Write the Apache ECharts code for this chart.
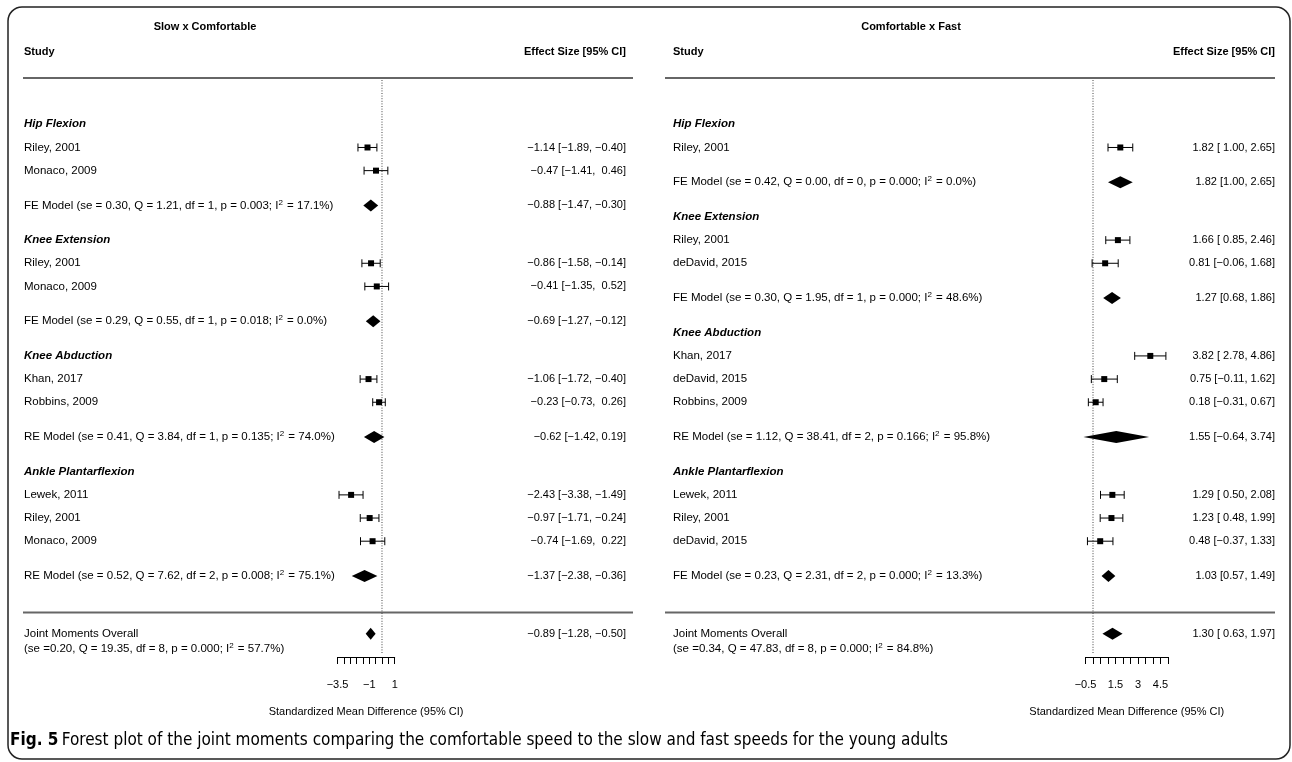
<!DOCTYPE html>
<html>
<head>
<meta charset="utf-8">
<script src="https://cdn.jsdelivr.net/npm/echarts@6/dist/echarts.min.js"></script>
<style>html,body{margin:0;padding:0;background:#fff;}#c{width:1292px;height:762px;}</style>
</head>
<body>
<div id="c"></div>
<script>
// ---------- DATA ----------
const leftTitle = 'Slow x Comfortable';
const rightTitle = 'Comfortable x Fast';
const axisName = 'Standardized Mean Difference (95% CI)';

const leftLabels = ['Hip Flexion','Riley, 2001','Monaco, 2009','FE Model','Knee Extension','Riley, 2001','Monaco, 2009','FE Model','Knee Abduction','Khan, 2017','Robbins, 2009','RE Model','Ankle Plantarflexion','Lewek, 2011','Riley, 2001','Monaco, 2009','RE Model','Joint Moments Overall'];
const leftKind   = ['h','s','s','m','h','s','s','m','h','s','s','m','h','s','s','s','m','o'];
const leftRows   = [0,1,2,3.5,5,6,7,8.5,10,11,12,13.5,15,16,17,18,19.5,22];
const leftEst    = [null,-1.14,-0.47,-0.88,null,-0.86,-0.41,-0.69,null,-1.06,-0.23,-0.62,null,-2.43,-0.97,-0.74,-1.37,-0.89];
const leftLow    = [null,-1.89,-1.41,-1.47,null,-1.58,-1.35,-1.27,null,-1.72,-0.73,-1.42,null,-3.38,-1.71,-1.69,-2.38,-1.28];
const leftHigh   = [null,-0.40,0.46,-0.30,null,-0.14,0.52,-0.12,null,-0.40,0.26,0.19,null,-1.49,-0.24,0.22,-0.36,-0.50];
// model statistics: [prefix before I, I² value]
const leftStats  = [null,null,null,['se = 0.30, Q = 1.21, df = 1, p = 0.003; ','17.1%'],null,null,null,['se = 0.29, Q = 0.55, df = 1, p = 0.018; ','0.0%'],null,null,null,['se = 0.41, Q = 3.84, df = 1, p = 0.135; ','74.0%'],null,null,null,null,['se = 0.52, Q = 7.62, df = 2, p = 0.008; ','75.1%'],['se =0.20, Q = 19.35, df = 8, p = 0.000; ','57.7%']];
const leftTicks  = [-3.5,-3,-2.5,-2,-1.5,-1,-0.5,0,0.5,1];
const leftTickLabels = [-3.5,-1,1];

const rightLabels = ['Hip Flexion','Riley, 2001','FE Model','Knee Extension','Riley, 2001','deDavid, 2015','FE Model','Knee Abduction','Khan, 2017','deDavid, 2015','Robbins, 2009','RE Model','Ankle Plantarflexion','Lewek, 2011','Riley, 2001','deDavid, 2015','FE Model','Joint Moments Overall'];
const rightKind   = ['h','s','m','h','s','s','m','h','s','s','s','m','h','s','s','s','m','o'];
const rightRows   = [0,1,2.5,4,5,6,7.5,9,10,11,12,13.5,15,16,17,18,19.5,22];
const rightEst    = [null,1.82,1.82,null,1.66,0.81,1.27,null,3.82,0.75,0.18,1.55,null,1.29,1.23,0.48,1.03,1.30];
const rightLow    = [null,1.00,1.00,null,0.85,-0.06,0.68,null,2.78,-0.11,-0.31,-0.64,null,0.50,0.48,-0.37,0.57,0.63];
const rightHigh   = [null,2.65,2.65,null,2.46,1.68,1.86,null,4.86,1.62,0.67,3.74,null,2.08,1.99,1.33,1.49,1.97];
const rightStats  = [null,null,['se = 0.42, Q = 0.00, df = 0, p = 0.000; ','0.0%'],null,null,null,['se = 0.30, Q = 1.95, df = 1, p = 0.000; ','48.6%'],null,null,null,null,['se = 1.12, Q = 38.41, df = 2, p = 0.166; ','95.8%'],null,null,null,null,['se = 0.23, Q = 2.31, df = 2, p = 0.000; ','13.3%'],['se =0.34, Q = 47.83, df = 8, p = 0.000; ','84.8%']];
const rightTicks  = [-0.5,0,0.5,1,1.5,2,2.5,3,3.5,4,4.5,5];
const rightTickLabels = [-0.5,1.5,3,4.5];

const caption = 'Forest plot of the joint moments comparing the comfortable speed to the slow and fast speeds for the young adults';

// ---------- LAYOUT ----------
const FONT = '"Liberation Sans", Arial, Helvetica, sans-serif';
const LBL = '11.5px ' + FONT;
const CIF = '11px ' + FONT;
const L = { textX: 24, ciRight: 626, lineL: 23, lineR: 633, gridLeft: 337.5, gridWidth: 57.2, title: 205 };
const R = { textX: 673, ciRight: 1275, lineL: 665, lineR: 1275, gridLeft: 1085.5, gridWidth: 82.5, title: 911 };
const GRID_TOP = 78, GRID_H = 579;

function num(v) { return (v < 0 ? '\u2212' : '') + Math.abs(v).toFixed(2); }
function padTo(s, w) { while (s.length < w) s = ' ' + s; return s; }

const RICH = {
  a: { fontFamily: FONT, fontSize: 11.5, color: '#000', fill: '#000' },
  s: { fontFamily: FONT, fontSize: 8, color: '#000', fill: '#000', padding: [0, 1, 6, 0] }
};

function makeRender(P, labels, kind, rows, est, lo, hi, stats) {
  // study rows and overall row share a common column width; model rows are unpadded
  const studyIdx = kind.map((k, i) => i).filter(i => kind[i] === 's' || kind[i] === 'o');
  let wE = 0, wL = 0, wH = 0;
  studyIdx.forEach(i => {
    wE = Math.max(wE, num(est[i]).length);
    wL = Math.max(wL, num(lo[i]).length);
    wH = Math.max(wH, num(hi[i]).length);
  });
  function ci(i) {
    if (kind[i] === 'm') return num(est[i]) + ' [' + num(lo[i]) + ', ' + num(hi[i]) + ']';
    return padTo(num(est[i]), wE) + ' [' + padTo(num(lo[i]), wL) + ', ' + padTo(num(hi[i]), wH) + ']';
  }
  function statRich(prefix, i) {
    return '{a|' + prefix + '(' + stats[i][0] + 'I}{s|2}{a| = ' + stats[i][1] + ')}';
  }
  return function (params, api) {
    const i = api.value(2);
    const k = kind[i];
    const y = api.coord([0, rows[i]])[1];
    const children = [];
    const txt = (x, yy, s, font, align) => ({
      type: 'text', x: x, y: yy,
      style: { text: s, font: font, fill: '#000', textAlign: align, align: align, textVerticalAlign: 'middle', verticalAlign: 'middle' }
    });
    const rtxt = (x, yy, s) => ({
      type: 'text', x: x, y: yy,
      style: { text: s, rich: RICH, fill: '#000', textAlign: 'left', align: 'left', textVerticalAlign: 'middle', verticalAlign: 'middle' }
    });
    if (k === 'h') {
      children.push(txt(P.textX, y, labels[i], 'italic bold 11.5px ' + FONT, 'left'));
    } else if (k === 's') {
      children.push(txt(P.textX, y, labels[i], LBL, 'left'));
      const x0 = api.coord([lo[i], rows[i]])[0];
      const x1 = api.coord([hi[i], rows[i]])[0];
      const xm = api.coord([est[i], rows[i]])[0];
      const ls = { stroke: '#000', lineWidth: 1 };
      children.push({ type: 'line', shape: { x1: x0, y1: y, x2: x1, y2: y }, style: ls });
      children.push({ type: 'line', shape: { x1: x0, y1: y - 4, x2: x0, y2: y + 4 }, style: ls });
      children.push({ type: 'line', shape: { x1: x1, y1: y - 4, x2: x1, y2: y + 4 }, style: ls });
      children.push({ type: 'rect', shape: { x: xm - 3, y: y - 3, width: 6, height: 6 }, style: { fill: '#000' } });
      children.push(txt(P.ciRight, y, ci(i), CIF, 'right'));
    } else {
      const x0 = api.coord([lo[i], rows[i]])[0];
      const x1 = api.coord([hi[i], rows[i]])[0];
      const xm = api.coord([est[i], rows[i]])[0];
      children.push({ type: 'polygon', shape: { points: [[x0, y], [xm, y - 6], [x1, y], [xm, y + 6]] }, style: { fill: '#000' } });
      if (k === 'm') {
        children.push(rtxt(P.textX, y, statRich(labels[i] + ' ', i)));
      } else {
        children.push(txt(P.textX, y, labels[i], LBL, 'left'));
        children.push(rtxt(P.textX, y + 15, statRich('', i)));
      }
      children.push(txt(P.ciRight, y, ci(i), CIF, 'right'));
    }
    return { type: 'group', children: children };
  };
}

function frameRender(P) {
  return function (params, api) {
    const yTop = api.coord([0, -2])[1];
    const ySep = api.coord([0, 21.08])[1];
    const yBot = api.coord([0, 23])[1];
    const x0 = api.coord([0, 0])[0];
    const sep = { stroke: '#666', lineWidth: 2 };
    return { type: 'group', children: [
      { type: 'line', shape: { x1: P.lineL, y1: yTop, x2: P.lineR, y2: yTop }, style: sep },
      { type: 'line', shape: { x1: P.lineL, y1: ySep, x2: P.lineR, y2: ySep }, style: sep },
      { type: 'line', shape: { x1: x0, y1: yTop + 2, x2: x0, y2: yBot - 3 }, style: { stroke: '#444', lineWidth: 1, lineDash: [1, 1.6] } }
    ] };
  };
}

function xAxisCfg(gi, ticks, labs) {
  return {
    gridIndex: gi, type: 'value', min: ticks[0], max: ticks[ticks.length - 1], interval: 0.5,
    position: 'bottom',
    axisLine: { show: true, onZero: false, lineStyle: { color: '#000', width: 1 } },
    axisTick: { show: true, length: 7, customValues: ticks, lineStyle: { color: '#000', width: 1 } },
    axisLabel: { customValues: labs, margin: 22, color: '#000', fontSize: 11, fontFamily: FONT,
      formatter: v => (v < 0 ? '\u2212' : '') + Math.abs(v) },
    splitLine: { show: false },
    name: axisName, nameLocation: 'middle', nameGap: 49,
    nameTextStyle: { color: '#000', fontSize: 11, fontFamily: FONT }
  };
}

const chart = echarts.init(document.getElementById('c'), null, { renderer: 'canvas' });
const idxData = (labels, est) => labels.map((l, i) => [est[i] === null ? 0 : est[i], 0, i]);
const CAPF = '"Liberation Sans Narrow", "DejaVu Sans Condensed", Roboto, sans-serif';

chart.setOption({
  animation: false,
  backgroundColor: '#fff',
  grid: [
    { left: L.gridLeft, width: L.gridWidth, top: GRID_TOP, height: GRID_H, containLabel: false },
    { left: R.gridLeft, width: R.gridWidth, top: GRID_TOP, height: GRID_H, containLabel: false }
  ],
  xAxis: [xAxisCfg(0, leftTicks, leftTickLabels), xAxisCfg(1, rightTicks, rightTickLabels)],
  yAxis: [
    { gridIndex: 0, type: 'value', inverse: true, min: -2, max: 23, show: false },
    { gridIndex: 1, type: 'value', inverse: true, min: -2, max: 23, show: false }
  ],
  graphic: [
    { type: 'rect', shape: { x: 8, y: 7, width: 1282, height: 752, r: 14 }, style: { fill: 'none', stroke: '#222', lineWidth: 1.5 }, silent: true },
    { type: 'text', x: L.title, y: 27, style: { text: leftTitle, font: 'bold 11px ' + FONT, fill: '#000', textAlign: 'center', textVerticalAlign: 'middle' } },
    { type: 'text', x: R.title, y: 27, style: { text: rightTitle, font: 'bold 11px ' + FONT, fill: '#000', textAlign: 'center', textVerticalAlign: 'middle' } },
    { type: 'text', x: L.textX, y: 52, style: { text: 'Study', font: 'bold 11px ' + FONT, fill: '#000', textAlign: 'left', textVerticalAlign: 'middle' } },
    { type: 'text', x: R.textX, y: 52, style: { text: 'Study', font: 'bold 11px ' + FONT, fill: '#000', textAlign: 'left', textVerticalAlign: 'middle' } },
    { type: 'text', x: L.ciRight, y: 52, style: { text: 'Effect Size [95% CI]', font: 'bold 11px ' + FONT, fill: '#000', textAlign: 'right', textVerticalAlign: 'middle' } },
    { type: 'text', x: R.ciRight, y: 52, style: { text: 'Effect Size [95% CI]', font: 'bold 11px ' + FONT, fill: '#000', textAlign: 'right', textVerticalAlign: 'middle' } },
    { type: 'text', x: 10, y: 741, style: {
      text: '{b|Fig. 5} {n|' + caption + '}', textVerticalAlign: 'middle',
      rich: {
        b: { fontFamily: CAPF, fontWeight: 'bold', fontSize: 17, fill: '#000', color: '#000' },
        n: { fontFamily: CAPF, fontSize: 17, fill: '#000', color: '#000' }
      } } }
  ],
  series: [
    { type: 'custom', xAxisIndex: 0, yAxisIndex: 0, clip: false, silent: true, renderItem: frameRender(L), data: [[0, 0, 0]] },
    { type: 'custom', xAxisIndex: 1, yAxisIndex: 1, clip: false, silent: true, renderItem: frameRender(R), data: [[0, 0, 0]] },
    { type: 'custom', xAxisIndex: 0, yAxisIndex: 0, clip: false, silent: true,
      renderItem: makeRender(L, leftLabels, leftKind, leftRows, leftEst, leftLow, leftHigh, leftStats),
      data: idxData(leftLabels, leftEst) },
    { type: 'custom', xAxisIndex: 1, yAxisIndex: 1, clip: false, silent: true,
      renderItem: makeRender(R, rightLabels, rightKind, rightRows, rightEst, rightLow, rightHigh, rightStats),
      data: idxData(rightLabels, rightEst) }
  ]
});
</script>
</body>
</html>
